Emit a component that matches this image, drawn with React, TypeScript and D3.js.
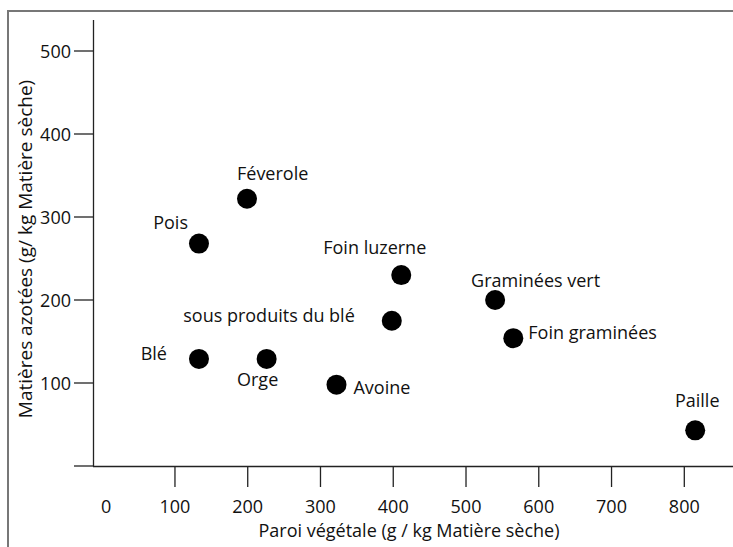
import React from "react";
import * as d3 from "d3";

const names = ["Pois", "Féverole", "Foin luzerne", "sous produits du blé", "Blé", "Orge", "Avoine", "Graminées vert", "Foin graminées", "Paille"];
const paroi = [133, 199, 411, 398, 133, 226, 322, 540, 565, 815];
const azote = [268, 322, 230, 175, 129, 129, 98, 200, 154, 43];
const xTicks = [100, 200, 300, 400, 500, 600, 700, 800];
const xTickLabels = ["0", "100", "200", "300", "400", "500", "600", "700", "800"];
const xLabelValues = [0, 100, 200, 300, 400, 500, 600, 700, 800];
const yTicks = [0, 100, 200, 300, 400, 500];
const yTickLabels = ["", "100", "200", "300", "400", "500"];
const xTitle = "Paroi végétale (g / kg Matière sèche)";
const yTitle = "Matières azotées (g/ kg Matière sèche)";

// label placement: [anchor, dx, dy] relative to point center
const labelPlace: [string, number, number][] = [
  ["end", -11, -22],
  ["start", -10, -26],
  ["start", -78, -28],
  ["end", -37, -6],
  ["end", -32, -6],
  ["middle", -9, 20],
  ["start", 17, 2],
  ["start", -24, -20],
  ["start", 15, -6],
  ["middle", 2, -30],
];

const W = 733;
const H = 547;
const FONT = "'Open Sans', sans-serif";

export default function App() {
  const x = d3.scaleLinear().domain([0, 800]).range([102.2, 684.3]);
  const y = d3.scaleLinear().domain([0, 500]).range([466, 51]);
  const axisColor = "#222";
  const fs = 18;
  return (
    <svg width={W} height={H} style={{ position: "absolute", left: 0, top: 0, background: "#fff" }} fontFamily={FONT}>
      <rect x={0} y={0} width={W} height={H} fill="#fff" />
      {/* frame */}
      <line x1={8} y1={11} x2={W} y2={11} stroke="#777" strokeWidth={2} />
      <line x1={8} y1={10} x2={8} y2={H} stroke="#777" strokeWidth={2} />
      {/* y axis */}
      <line x1={93.5} y1={20} x2={93.5} y2={466.5} stroke={axisColor} strokeWidth={1.3} />
      {yTicks.map((t, i) => (
        <g key={"yt" + t}>
          <line x1={74} x2={93} y1={y(t)} y2={y(t)} stroke={axisColor} strokeWidth={1.3} />
          <text x={71} y={y(t)} textAnchor="end" dominantBaseline="central" fontSize={fs} fill="#111">
            {yTickLabels[i]}
          </text>
        </g>
      ))}
      {/* x axis */}
      <line x1={93} y1={466.5} x2={W} y2={466.5} stroke={axisColor} strokeWidth={1.3} />
      {xTicks.map((t) => (
        <line key={"xt" + t} x1={x(t)} x2={x(t)} y1={467} y2={487} stroke={axisColor} strokeWidth={1.3} />
      ))}
      {xLabelValues.map((v, i) => (
        <text key={"xl" + v} x={x(v) + (v === 0 ? 4 : 0)} y={506} textAnchor="middle" dominantBaseline="central" fontSize={fs} fill="#111">
          {xTickLabels[i]}
        </text>
      ))}
      <text x={409} y={530} textAnchor="middle" dominantBaseline="central" fontSize={fs} fill="#111">
        {xTitle}
      </text>
      <text transform={`translate(25,249) rotate(-90)`} textAnchor="middle" dominantBaseline="central" fontSize={19} fill="#111">
        {yTitle}
      </text>
      {/* points */}
      {names.map((n, i) => (
        <g key={n}>
          <circle cx={x(paroi[i])} cy={y(azote[i])} r={10} fill="#000" />
          <text
            x={x(paroi[i]) + labelPlace[i][1]}
            y={y(azote[i]) + labelPlace[i][2]}
            textAnchor={labelPlace[i][0] as any}
            dominantBaseline="central"
            fontSize={fs}
            fill="#111"
          >
            {n}
          </text>
        </g>
      ))}
    </svg>
  );
}
